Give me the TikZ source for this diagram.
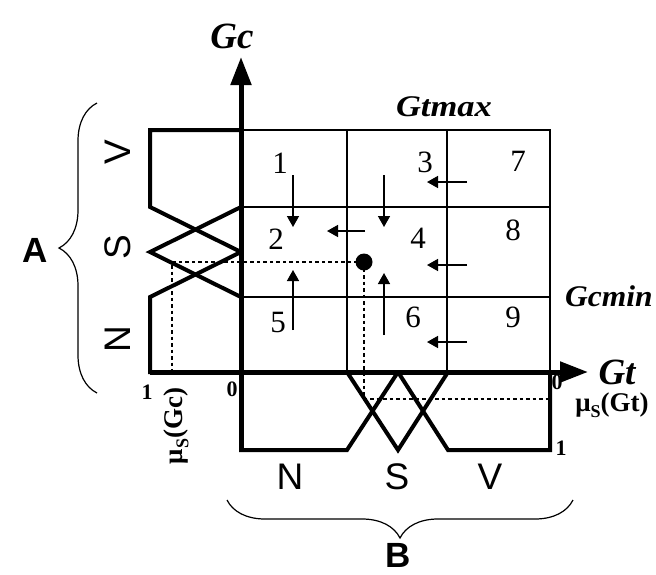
\documentclass[tikz,border=0pt]{standalone}
\usepackage{fontspec}
\setmainfont{Liberation Serif}
\newfontfamily\sansf{Liberation Sans}
\usetikzlibrary{arrows.meta,decorations.pathreplacing}
\begin{document}
\begin{tikzpicture}[x=1pt,y=-1pt,
  thickln/.style={line width=4pt,line join=miter},
  axisln/.style={line width=5pt,-{Triangle[length=28pt,width=20pt]}},
  gridthin/.style={line width=1.6pt},
  gridmid/.style={line width=2.6pt},
  dashln/.style={line width=1.6pt,dash pattern=on 3.5pt off 3pt},
  flowarrow/.style={line width=1.5pt,-{Triangle[length=11pt,width=12pt]}},
  cellnum/.style={font=\fontsize{31}{31}\selectfont},
  axlabel/.style={font=\fontsize{37}{37}\selectfont\bfseries\itshape},
  limlabel/.style={font=\fontsize{30}{30}\selectfont\bfseries\itshape},
  fuzzlabel/.style={font=\sansf\fontsize{37}{37}\selectfont},
  biglabel/.style={font=\sansf\bfseries\fontsize{35}{35}\selectfont},
  tick/.style={font=\fontsize{22}{22}\selectfont\bfseries},
  mulabel/.style={font=\fontsize{27}{27}\selectfont\bfseries},
  bracestyle/.style={line width=1.2pt,decorate,decoration={brace,amplitude=38pt}}]
\useasboundingbox (0,0) rectangle (656,574);
% grid coordinates
\coordinate (o) at (241,372);
\coordinate (tl) at (150,130);
\coordinate (tr) at (550,130);
\coordinate (br) at (550,450);
\coordinate (bl) at (241,450);
% inner grid lines
\draw[gridthin] (347,130) -- (347,372);
\draw[gridmid] (447,130) -- (447,372);
\draw[gridthin] (241,207) -- (550,207);
\draw[gridmid] (241,297) -- (550,297);
\draw[gridmid] (241,130) -- (tr) -- (550,372);
% dashed guides
\coordinate (dot) at (364,262);
\coordinate (lmu) at (172,262);
\coordinate (lmu0) at (172,372);
\coordinate (bmu) at (364,399);
\coordinate (bmu1) at (550,399);
\draw[dashln] (dot) -- (lmu) -- (lmu0);
\draw[dashln] (dot) -- (bmu) -- (bmu1);
% left membership functions
\draw[thickln] (241,130) -- (tl) -- (150,207) -- (241,252);
\draw[thickln] (241,207) -- (150,252) -- (241,297);
\draw[thickln] (241,252) -- (150,297) -- (150,372) -- (241,372);
% bottom membership functions
\draw[thickln] (241,372) -- (bl) -- (347,450) -- (398,372);
\draw[thickln] (347,372) -- (398,450) -- (448,372);
\draw[thickln] (398,372) -- (448,450) -- (br) -- (550,372);
% axes
\coordinate (gctip) at (241,57);
\coordinate (gttip) at (588,372);
\draw[axisln] (bl) -- (gctip);
\draw[axisln] (150,372) -- (gttip);
% operating point
\fill (dot) circle (8.5pt);
% flow arrows
\draw[flowarrow] (293,175) -- (293,227);
\draw[flowarrow] (384,175) -- (384,227);
\draw[flowarrow] (467,182) -- (427,182);
\draw[flowarrow] (365,231) -- (327,231);
\draw[flowarrow] (467,265) -- (427,265);
\draw[flowarrow] (293,330) -- (293,270);
\draw[flowarrow] (384,335) -- (384,273);
\draw[flowarrow] (467,342) -- (427,342);
% cell numbers
\node[cellnum] (n1) at (280,163) {1};
\node[cellnum] (n2) at (276,239) {2};
\node[cellnum] (n3) at (425,162) {3};
\node[cellnum] (n4) at (418,238) {4};
\node[cellnum] (n5) at (278,322) {5};
\node[cellnum] (n6) at (413,317) {6};
\node[cellnum] (n7) at (518,161) {7};
\node[cellnum] (n8) at (513,230) {8};
\node[cellnum] (n9) at (513,317) {9};
% axis labels
\node[axlabel] (lgc) at (232,36) {Gc};
\node[axlabel] (lgt) at (617,372) {Gt};
\node[limlabel] (lgtmax) at (444,107) {\scalebox{1.15}[1]{Gtmax}};
\node[limlabel,anchor=west,inner sep=0pt] (lgcmin) at (565,296) {\scalebox{1.05}[1]{Gcmin}};
% membership tick labels
\node[tick] (l1) at (147,392) {1};
\node[tick] (l0) at (232,389) {0};
\node[tick] (b0) at (557,382) {0};
\node[tick] (b1) at (561,448) {1};
\node[mulabel] (mugt) at (612,405) {μ\raisebox{-0.22em}{\fontsize{18}{18}\selectfont S}(Gt)};
\node[mulabel,rotate=90] (mugc) at (176,426) {μ\raisebox{-0.22em}{\fontsize{18}{18}\selectfont S}(Gc)};
% fuzzy set labels
\node[fuzzlabel,rotate=90] (lv) at (118,152) {V};
\node[fuzzlabel,rotate=90] (ls) at (118,247) {S};
\node[fuzzlabel,rotate=90] (ln) at (118,339) {N};
\node[fuzzlabel] (bn) at (290,477) {N};
\node[fuzzlabel] (bs) at (397,477) {S};
\node[fuzzlabel] (bv) at (490,477) {V};
% braces
\coordinate (abot) at (97,393);
\coordinate (atop) at (97,103);
\draw[bracestyle] (abot) -- (atop);
\coordinate (bright) at (573,500);
\coordinate (bleft) at (227,500);
\draw[bracestyle] (bright) -- (bleft);
\node[biglabel] (la) at (35,250) {A};
\node[biglabel] (lb) at (398,555) {B};
\end{tikzpicture}
\end{document}
